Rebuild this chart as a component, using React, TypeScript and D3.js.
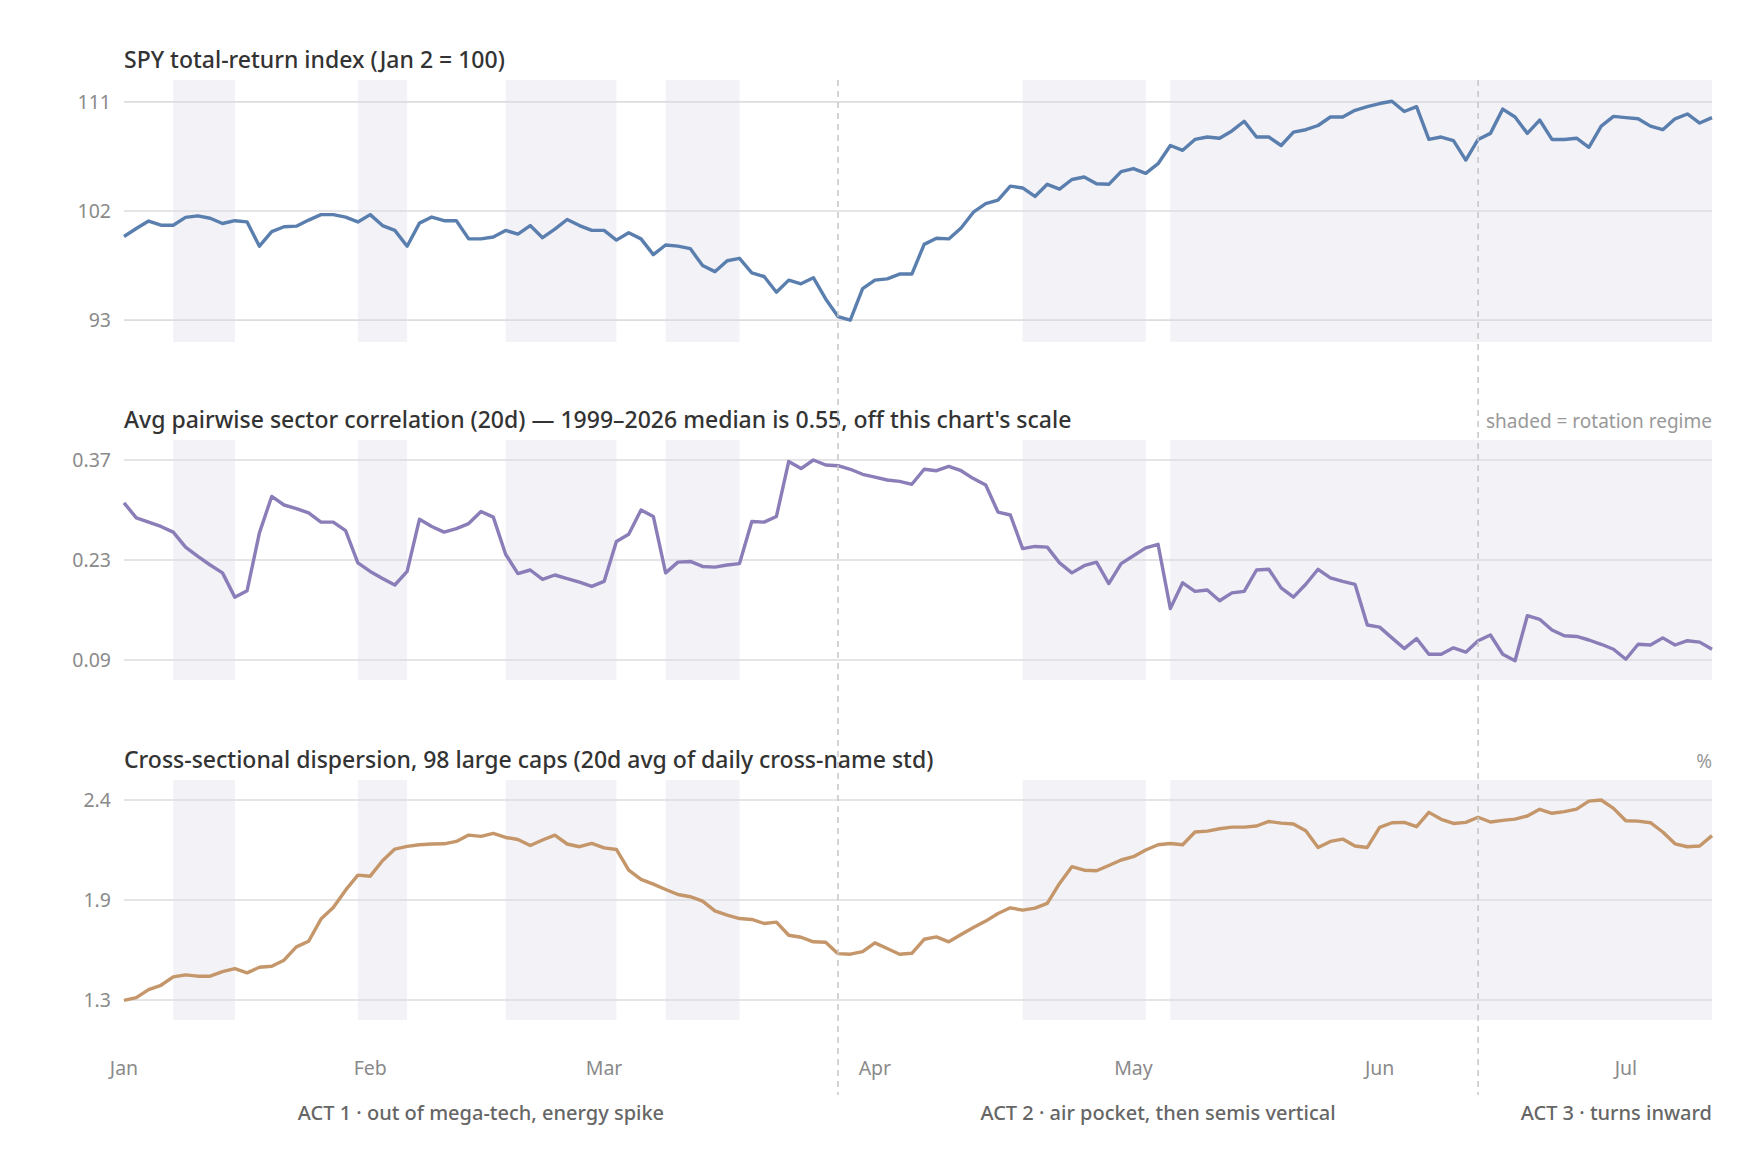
import { useMemo } from "react";
import * as d3 from "d3";

// Trading-day index 0..129 (Jan 2 → Jul 10). Three stacked panels sharing x.
const monthLabels = ["Jan", "Feb", "Mar", "Apr", "May", "Jun", "Jul"];
const monthIdx = [0, 20, 39, 61, 82, 102, 122];

// rotation-regime windows, [start, end] in trading-day index
const regimes: [number, number][] = [[4, 9], [19, 23], [31, 40], [44, 50], [73, 83], [85, 129]];

const actBreaks = [58, 110];
const actLabels = [
  "ACT 1 · out of mega-tech, energy spike",
  "ACT 2 · air pocket, then semis vertical",
  "ACT 3 · turns inward",
];

const spy = [
  99.9, 100.56, 101.17, 100.83, 100.83, 101.47, 101.6, 101.4, 100.97, 101.2,
  101.1, 99.1, 100.3, 100.7, 100.75, 101.25, 101.7, 101.7, 101.5, 101.1,
  101.7, 100.8, 100.4, 99.1, 101.0, 101.5, 101.2, 101.2, 99.7, 99.7,
  99.86, 100.4, 100.1, 100.8, 99.8, 100.5, 101.3, 100.8, 100.4, 100.4,
  99.6, 100.2, 99.7, 98.4, 99.2, 99.1, 98.9, 97.5, 97.0, 97.9,
  98.1, 96.9, 96.6, 95.3, 96.3, 96.0, 96.5, 94.75, 93.3, 93.0,
  95.6, 96.3, 96.4, 96.8, 96.8, 99.25, 99.75, 99.7, 100.6, 101.9,
  102.6, 102.9, 104.05, 103.9, 103.2, 104.2, 103.8, 104.6, 104.8, 104.25,
  104.2, 105.25, 105.5, 105.1, 105.9, 107.4, 107.0, 107.9, 108.1, 108.0,
  108.6, 109.4, 108.1, 108.1, 107.4, 108.5, 108.7, 109.05, 109.75, 109.75,
  110.3, 110.6, 110.86, 111.05, 110.2, 110.6, 107.9, 108.1, 107.8, 106.2,
  107.9, 108.4, 110.4, 109.75, 108.4, 109.5, 107.9, 107.9, 108.0, 107.25,
  109.0, 109.8, 109.7, 109.6, 109.0, 108.7, 109.6, 110.0, 109.25, 109.7,
];

const corr = [
  0.310, 0.289, 0.283, 0.277, 0.269, 0.248, 0.235, 0.223, 0.212, 0.178,
  0.187, 0.268, 0.319, 0.307, 0.302, 0.296, 0.283, 0.283, 0.271, 0.226,
  0.214, 0.204, 0.195, 0.214, 0.287, 0.277, 0.269, 0.274, 0.281, 0.298,
  0.290, 0.238, 0.211, 0.216, 0.203, 0.209, 0.204, 0.199, 0.193, 0.200,
  0.256, 0.266, 0.300, 0.291, 0.212, 0.227, 0.228, 0.221, 0.220, 0.223,
  0.225, 0.284, 0.283, 0.291, 0.368, 0.358, 0.370, 0.363, 0.362, 0.357,
  0.350, 0.346, 0.342, 0.340, 0.336, 0.357, 0.355, 0.361, 0.355, 0.344,
  0.335, 0.297, 0.293, 0.246, 0.249, 0.248, 0.226, 0.212, 0.222, 0.227,
  0.197, 0.225, 0.236, 0.247, 0.252, 0.162, 0.198, 0.186, 0.188, 0.173,
  0.184, 0.186, 0.216, 0.217, 0.191, 0.178, 0.196, 0.217, 0.205, 0.200,
  0.196, 0.139, 0.136, 0.121, 0.106, 0.120, 0.098, 0.098, 0.107, 0.101,
  0.117, 0.125, 0.098, 0.089, 0.152, 0.147, 0.132, 0.124, 0.123, 0.118,
  0.112, 0.105, 0.091, 0.112, 0.111, 0.121, 0.111, 0.117, 0.115, 0.105,
];

const disp = [
  1.298, 1.313, 1.357, 1.381, 1.427, 1.438, 1.431, 1.431, 1.456, 1.473,
  1.449, 1.480, 1.486, 1.519, 1.592, 1.623, 1.745, 1.809, 1.904, 1.987,
  1.981, 2.066, 2.130, 2.145, 2.154, 2.158, 2.159, 2.172, 2.207, 2.200,
  2.216, 2.194, 2.183, 2.150, 2.180, 2.207, 2.158, 2.143, 2.161, 2.137,
  2.128, 2.014, 1.963, 1.937, 1.908, 1.880, 1.868, 1.844, 1.790, 1.767,
  1.748, 1.743, 1.721, 1.728, 1.656, 1.645, 1.620, 1.618, 1.555, 1.552,
  1.566, 1.614, 1.583, 1.552, 1.557, 1.634, 1.647, 1.620, 1.660, 1.699,
  1.734, 1.776, 1.807, 1.794, 1.805, 1.831, 1.941, 2.033, 2.014, 2.011,
  2.040, 2.070, 2.088, 2.125, 2.154, 2.161, 2.154, 2.224, 2.229, 2.242,
  2.251, 2.251, 2.257, 2.282, 2.273, 2.268, 2.231, 2.139, 2.172, 2.185,
  2.147, 2.139, 2.249, 2.275, 2.277, 2.253, 2.332, 2.294, 2.271, 2.277,
  2.305, 2.279, 2.288, 2.295, 2.312, 2.349, 2.327, 2.336, 2.350, 2.394,
  2.400, 2.354, 2.286, 2.284, 2.275, 2.224, 2.159, 2.143, 2.147, 2.204,
];

const spyTicks = [93, 102, 111];
const corrTicks = [0.09, 0.23, 0.37];
const dispTicks = [1.3, 1.85, 2.4];
const dispTickLabels = ["1.3", "1.9", "2.4"];

const FONT = "'Noto Sans', 'Open Sans', sans-serif";
const W = 1760;
const H = 1160;
const left = 124;
const right = 1712;

type Panel = {
  title: string;
  note?: string;
  values: number[];
  ticks: number[];
  labels: string[];
  color: string;
  top: number;
  bottom: number;
};

const panels: Panel[] = [
  { title: "SPY total-return index (Jan 2 = 100)", values: spy, ticks: spyTicks, labels: spyTicks.map(String), color: "#5a7fae", top: 80, bottom: 342 },
  { title: "Avg pairwise sector correlation (20d) — 1999–2026 median is 0.55, off this chart's scale", note: "shaded = rotation regime", values: corr, ticks: corrTicks, labels: corrTicks.map((t) => t.toFixed(2)), color: "#8a7db8", top: 440, bottom: 680 },
  { title: "Cross-sectional dispersion, 98 large caps (20d avg of daily cross-name std)", note: "%", values: disp, ticks: dispTicks, labels: dispTickLabels, color: "#c4966a", top: 780, bottom: 1020 },
];

export default function App() {
  const x = useMemo(() => d3.scaleLinear().domain([0, spy.length - 1]).range([left, right]), []);
  const actEdges = [0, ...actBreaks, spy.length - 1];

  return (
    <svg width={W} height={H} style={{ position: "absolute", left: 0, top: 0, background: "#fff" }} fontFamily={FONT}>
      {panels.map((p, pi) => {
        const lo = p.ticks[0];
        const hi = p.ticks[p.ticks.length - 1];
        const pad = (hi - lo) * 0.1;
        const y = d3.scaleLinear().domain([lo - pad, hi + pad]).range([p.bottom, p.top]);
        const line = d3.line<number>().x((_, i) => x(i)).y((v) => y(v));
        return (
          <g key={pi}>
            {regimes.map(([a, b]) => (
              <rect key={a} x={x(a)} y={p.top} width={x(b) - x(a)} height={p.bottom - p.top} fill="#f2f2f7" />
            ))}
            {p.ticks.map((t, ti) => (
              <g key={t}>
                <line x1={left} x2={right} y1={y(t)} y2={y(t)} stroke="#dcdce1" strokeWidth={1.7} />
                <text x={left - 13} y={y(t)} dy="0.35em" textAnchor="end" fontSize={19.5} fill="#8a8a8a">{p.labels[ti]}</text>
              </g>
            ))}
            <path d={line(p.values) ?? ""} fill="none" stroke={p.color} strokeWidth={3.4} strokeLinejoin="round" />
            <text x={left} y={p.top - 12} fontSize={23} fontWeight={500} fill="#333">{p.title}</text>
            {p.note && (
              <text x={right} y={p.top - 12} textAnchor="end" fontSize={19} fill="#999">{p.note}</text>
            )}
          </g>
        );
      })}
      {actBreaks.map((b) => (
        <line key={b} x1={x(b)} x2={x(b)} y1={80} y2={1095} stroke="#c6c6c6" strokeWidth={1.5} strokeDasharray="6 5" />
      ))}
      {monthLabels.map((m, i) => (
        <text key={m} x={x(monthIdx[i])} y={1075} textAnchor="middle" fontSize={19.5} fill="#8a8a8a">{m}</text>
      ))}
      {actLabels.map((a, i) => {
        const last = i === actLabels.length - 1;
        const cx = last ? right : (x(actEdges[i]) + x(actEdges[i + 1])) / 2;
        return (
          <text key={a} x={cx} y={1120} textAnchor={last ? "end" : "middle"} fontSize={20} fontWeight={500} fill="#666">{a}</text>
        );
      })}
    </svg>
  );
}
